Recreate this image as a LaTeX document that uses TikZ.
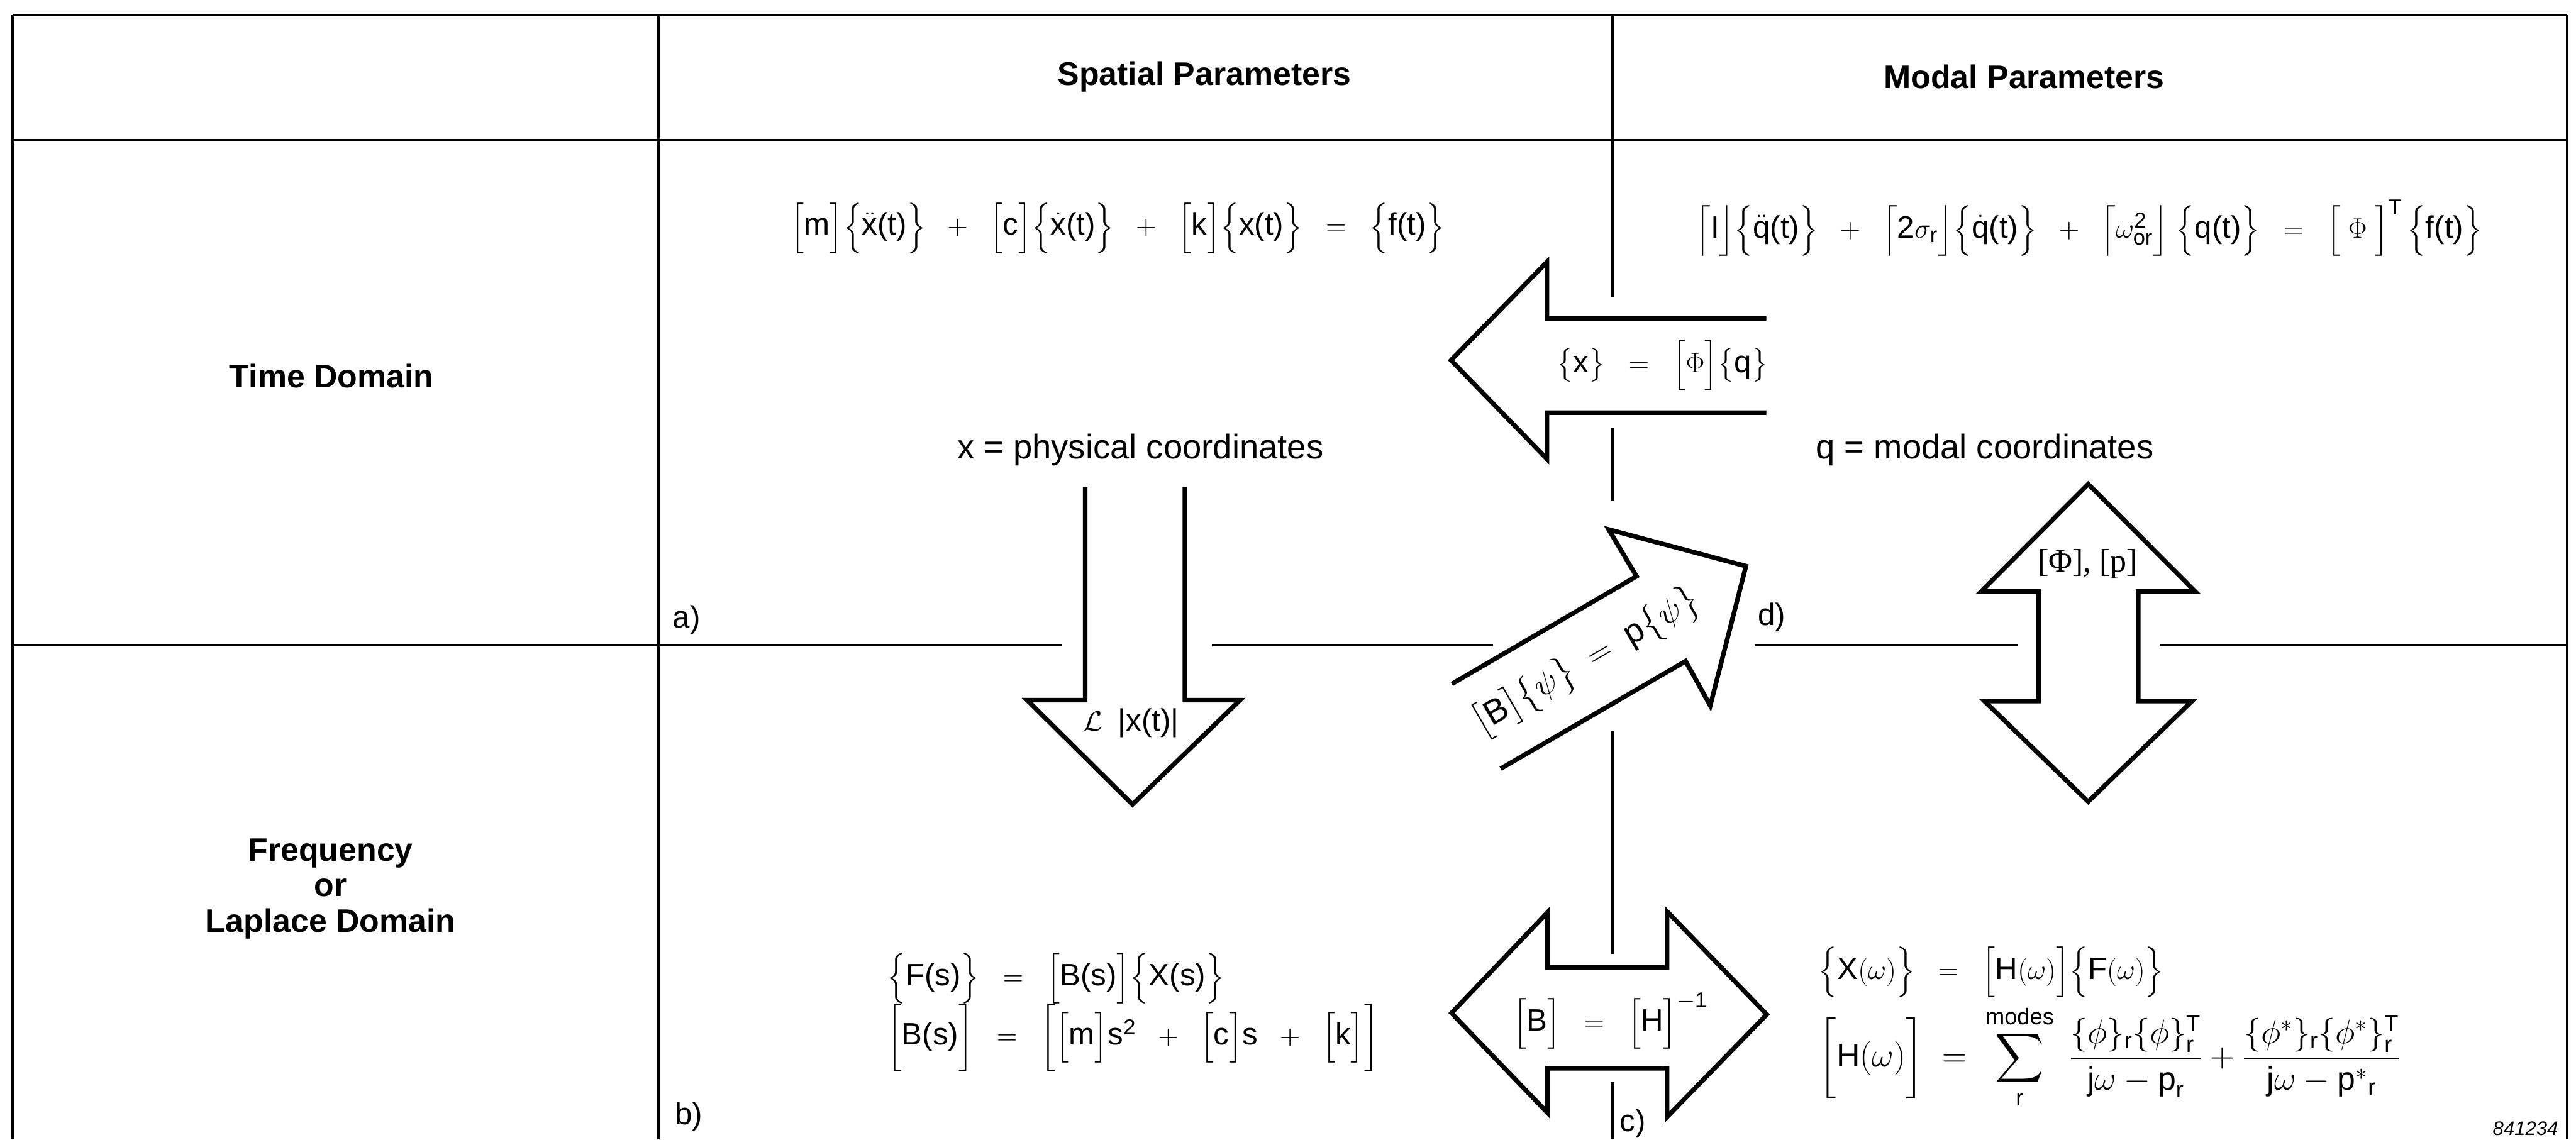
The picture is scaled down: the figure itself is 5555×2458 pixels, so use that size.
\documentclass[tikz,border=0pt]{standalone}
\usepackage{amsmath}
\usepackage{fontspec}
\setmainfont{Liberation Sans}
\newfontfamily\serifff{Liberation Serif}
\newcommand{\tx}[1]{\text{#1}}
\newcommand{\pl}{\;\;+\;\;}
\newcommand{\eqq}{\;\;=\;\;}
\begin{document}
\begin{tikzpicture}[x=0.1mm,y=-0.1mm,
  gridline/.style={line width=1.5pt},
  bigarrow/.style={line width=2.8pt, line join=miter},
  lbl/.style={font=\fontsize{20}{21.9}\selectfont\bfseries, align=center, inner sep=0pt},
  eq/.style={font=\fontsize{19}{23}\selectfont, inner sep=0pt},
  body/.style={font=\fontsize{21}{25}\selectfont, inner sep=0pt},
  tag/.style={font=\fontsize{19}{22}\selectfont, inner sep=0pt, anchor=west},
]
\useasboundingbox (0,0) rectangle (5555,2458);
% grid
\draw[gridline] (27,32) -- (5536,32);
\draw[gridline] (27,303) -- (5536,303);
\draw[gridline] (27,32) -- (27,2458);
\draw[gridline] (5536,32) -- (5536,2458);
\draw[gridline] (1420,32) -- (1420,2458);
\draw[gridline] (27,1392) -- (2289,1392);
\draw[gridline] (2614,1392) -- (3220,1392);
\draw[gridline] (3784,1392) -- (4351,1392);
\draw[gridline] (4657,1392) -- (5536,1392);
\draw[gridline] (3477,32) -- (3477,640);
\draw[gridline] (3477,922) -- (3477,1080);
\draw[gridline] (3477,1577) -- (3477,2058);
\draw[gridline] (3477,2334) -- (3477,2458);
% arrows
\draw[bigarrow] (3809,687) -- (3336,687) -- (3336,565) -- (3129,777) -- (3336,990) -- (3336,890) -- (3809,890);
\draw[bigarrow] (2340,1051) -- (2340,1510) -- (2215,1510) -- (2442,1735) -- (2674,1510) -- (2555,1510) -- (2555,1051);
\draw[bigarrow] (3131,1475) -- (3529,1243) -- (3469,1142) -- (3765,1221) -- (3688,1522) -- (3635,1426) -- (3236,1658);
\draw[bigarrow] (4503,1044) -- (4734,1276) -- (4611,1276) -- (4611,1512) -- (4727,1512) -- (4503,1729) -- (4279,1512) -- (4396,1512) -- (4396,1276) -- (4272,1276) -- cycle;
\draw[bigarrow] (3130,2185) -- (3337,1968) -- (3337,2087) -- (3595,2087) -- (3595,1966) -- (3810,2188) -- (3595,2409) -- (3595,2304) -- (3337,2304) -- (3337,2400) -- cycle;
% headers
\node[lbl] (hsp) at (2597,166) {Spatial Parameters};
\node[lbl] (hmo) at (4365,166) {Modal Parameters};
\node[lbl] (htd) at (715,811) {Time Domain};
\node[lbl] (hfd) at (713,1917) {Frequency\\or\\Laplace Domain};
% time domain equations
\node[eq] (eqA) at (2411,492) {$\Bigl[\tx{m}\Bigr]\Bigl\{\ddot{\tx{x}}\tx{(t)}\Bigr\}\pl\Bigl[\tx{c}\Bigr]\Bigl\{\dot{\tx{x}}\tx{(t)}\Bigr\}\pl\Bigl[\tx{k}\Bigr]\Bigl\{\tx{x(t)}\Bigr\}\eqq\Bigl\{\tx{f(t)}\Bigr\}$};
\node[eq] (eqB) at (4505,492) {$\Bigl\lceil\tx{I}\Bigr\rfloor\Bigl\{\ddot{\tx{q}}\tx{(t)}\Bigr\}\pl\Bigl\lceil\tx{2}\sigma_{\tx{r}}\Bigr\rfloor\Bigl\{\dot{\tx{q}}\tx{(t)}\Bigr\}\pl\Bigl\lceil\omega^{\tx{2}}_{\tx{or}}\Bigr\rfloor\;\Bigl\{\tx{q(t)}\Bigr\}\eqq\Bigl[\;\Phi\;\Bigr]^{\tx{T}}\,\Bigl\{\tx{f(t)}\Bigr\}$};
\node[body] (phys) at (2459,970) {x = physical coordinates};
\node[body] (moda) at (4280,970) {q = modal coordinates};
% arrow labels
\node[eq] (lxq) at (3585,788) {$\bigl\{\tx{x}\bigr\} \;\;=\;\; \Bigl[\Phi\Bigr]\bigl\{\tx{q}\bigr\}$};
\node[eq] (llap) at (2439,1559) {$\mathcal{L}$\enspace|x(t)|};
\node[eq, rotate=30, font=\fontsize{21}{25}\selectfont] (lbp) at (3421,1428) {$\bigl[\tx{B}\bigr]\bigl\{\psi\bigr\} \;=\; \tx{p}\bigl\{\psi\bigr\}$};
\node[eq, font=\fontsize{20}{24}\selectfont\serifff] (lphi) at (4502,1217) {[Φ], [p]};
\node[eq] (lbh) at (3473,2202) {$\Bigl[\tx{B}\Bigr]\eqq\Bigl[\tx{H}\Bigr]^{-\tx{1}}$};
% tags
\node[tag] (ta) at (1450,1337) {a)};
\node[tag] (tb) at (1455,2408) {b)};
\node[tag] (tc) at (3492,2423) {c)};
\node[tag] (td) at (3790,1332) {d)};
% frequency domain equations
\node[eq, anchor=west] (eqC) at (1912,2110) {$\Bigl\{\tx{F(s)}\Bigr\}\eqq\Bigl[\tx{B(s)}\Bigr]\Bigl\{\tx{X(s)}\Bigr\}$};
\node[eq, anchor=west] (eqD) at (1912,2238) {$\biggl[\tx{B(s)}\biggr]\eqq\biggl[\Bigl[\tx{m}\Bigr]\tx{s}^{\tx{2}}\pl\Bigl[\tx{c}\Bigr]\tx{s}\pl\Bigl[\tx{k}\Bigr]\biggr]$};
\node[eq, anchor=west] (eqE) at (3921,2097) {$\Bigl\{\tx{X}(\omega)\Bigr\}\eqq\Bigl[\tx{H}(\omega)\Bigr]\Bigl\{\tx{F}(\omega)\Bigr\}$};
\node[eq, anchor=west, font=\fontsize{20}{24}\selectfont] (eqF) at (3921,2279) {$\biggl[\tx{H}(\omega)\biggr] \;=\; \displaystyle\sum_{\tx{r}}^{\tx{modes}}\; \frac{\{\phi\}_{\tx{r}}\{\phi\}_{\tx{r}}^{\tx{T}}}{\tx{j}\omega - \tx{p}_{\tx{r}}} + \frac{\{\phi^{*}\}_{\tx{r}}\{\phi^{*}\}_{\tx{r}}^{\tx{T}}}{\tx{j}\omega - \tx{p}^{*}{}_{\tx{r}}}$};
\node[font=\fontsize{12}{14}\selectfont\itshape, anchor=east, inner sep=0pt] (num) at (5517,2434) {841234};
\end{tikzpicture}
\end{document}
